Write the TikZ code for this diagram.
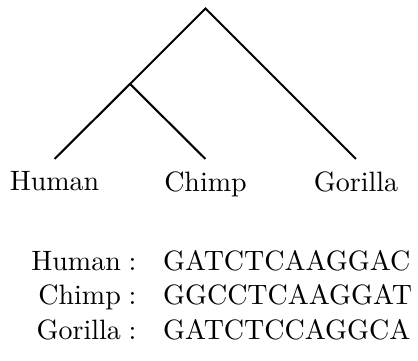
\documentclass[tikz,border=0pt]{standalone}
\begin{document}
\begin{tikzpicture}[x=0.357pt,y=-0.357pt,
  branch/.style={line width=0.75pt},
  leaf/.style={anchor=north,inner sep=4.3pt},
  seqname/.style={anchor=base east,inner sep=0pt},
  seq/.style={anchor=base west,inner sep=0pt}]
\useasboundingbox (0,0) rectangle (418,361);
\coordinate (root) at (205.5,8.5);
\coordinate (inner) at (130,84);
\node[leaf] (human) at (54.5,159) {Human};
\node[leaf] (chimp) at (205.5,159) {Chimp};
\node[leaf] (gorilla) at (356,159) {Gorilla};
\draw[branch] (human.north) -- (inner) -- (root) -- (gorilla.north);
\draw[branch] (inner) -- (chimp.north);
\node[seqname] (hn) at (137,270.5) {Human\;:};
\node[seq] (hs) at (162.5,270.5) {GATCTCAAGGAC};
\node[seqname] (cn) at (137,305) {Chimp\;:};
\node[seq] (cs) at (162.5,305) {GGCCTCAAGGAT};
\node[seqname] (gn) at (137,339.5) {Gorilla\;:};
\node[seq] (gs) at (162.5,339.5) {GATCTCCAGGCA};
\end{tikzpicture}
\end{document}
